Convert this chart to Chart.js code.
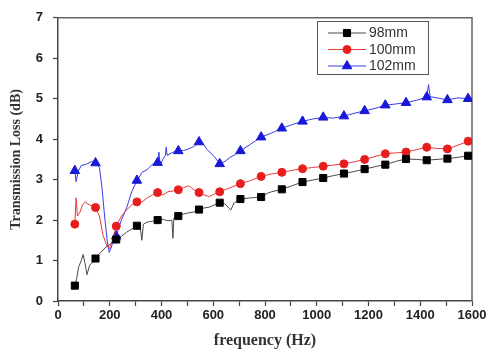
<!DOCTYPE html>
<html>
<head>
<meta charset="utf-8">
<script src="https://cdn.jsdelivr.net/npm/chart.js@4.4.0/dist/chart.umd.min.js"></script>
<style>
html,body{margin:0;padding:0;background:#fff;}
#wrap{width:491px;height:350px;position:relative;}
</style>
</head>
<body>
<div id="wrap"><canvas id="c" width="491" height="350"></canvas></div>
<script>
// ---- data ----
const seriesNames = ["98mm", "100mm", "102mm"];
const markerFreqs = [65,145,225,305,385,465,545,625,705,785,865,945,1025,1105,1185,1265,1345,1425,1505,1585];

const freq98 = [65,72,80,90,97,104,112,122,132,145,165,185,205,225,245,265,285,305,318,324,330,345,365,385,405,425,440,444,448,465,485,505,525,545,565,585,605,625,645,660,668,680,705,745,785,805,825,865,905,945,985,1025,1065,1105,1145,1185,1225,1265,1305,1345,1385,1425,1465,1505,1545,1585,1600];
const tl98   = [0.38,0.55,0.85,1.0,1.15,0.95,0.65,0.88,0.95,1.05,1.2,1.33,1.42,1.52,1.6,1.7,1.78,1.86,1.82,1.5,1.9,1.95,1.97,2.0,2.02,1.98,2.0,1.55,2.05,2.1,2.15,2.18,2.2,2.26,2.3,2.32,2.38,2.43,2.4,2.3,2.25,2.42,2.52,2.55,2.57,2.65,2.7,2.76,2.85,2.94,2.99,3.04,3.1,3.15,3.2,3.26,3.32,3.37,3.45,3.51,3.5,3.48,3.5,3.52,3.55,3.59,3.6];

const freq100 = [65,70,75,85,95,105,120,145,160,175,190,200,210,225,245,265,285,305,325,345,365,385,405,425,445,465,485,505,525,545,565,585,605,625,665,705,745,785,825,865,905,945,985,1025,1065,1105,1145,1185,1225,1265,1305,1345,1385,1425,1465,1505,1545,1585,1600];
const tl100   = [1.9,2.55,2.1,2.2,2.38,2.45,2.38,2.31,2.1,1.6,1.35,1.3,1.5,1.85,2.1,2.25,2.38,2.45,2.45,2.55,2.62,2.68,2.62,2.7,2.72,2.75,2.8,2.85,2.75,2.68,2.62,2.58,2.65,2.7,2.8,2.9,2.98,3.08,3.14,3.18,3.23,3.27,3.3,3.33,3.36,3.39,3.44,3.5,3.57,3.64,3.66,3.68,3.74,3.8,3.77,3.76,3.85,3.95,3.97];

const freq102 = [65,70,78,90,110,130,145,160,170,180,190,198,210,225,245,265,285,305,325,345,365,385,390,395,405,415,418,422,445,465,485,505,525,545,560,575,600,625,645,665,685,705,745,785,825,865,905,945,985,1025,1065,1105,1145,1185,1225,1265,1305,1345,1385,1425,1432,1438,1465,1505,1545,1585,1600];
const tl102   = [3.22,2.95,3.2,3.35,3.38,3.45,3.41,3.3,2.8,2.1,1.5,1.2,1.4,1.6,2.0,2.3,2.7,2.98,3.18,3.25,3.38,3.42,3.68,3.35,3.5,3.6,3.8,3.6,3.68,3.71,3.72,3.76,3.82,3.93,3.9,3.75,3.6,3.39,3.45,3.55,3.62,3.71,3.88,4.05,4.15,4.27,4.36,4.44,4.5,4.54,4.52,4.57,4.64,4.7,4.76,4.84,4.87,4.9,4.96,5.04,5.35,5.05,5.02,4.97,5.02,5.0,5.02];

const xTicks = [0,200,400,600,800,1000,1200,1400,1600];
const yTicks = [0,1,2,3,4,5,6,7];

// ---- build chart ----
function pts(xs, ys){ return xs.map((x,i)=>({x:x, y:ys[i]})); }
const isMarker = ctx => ctx.raw && markerFreqs.indexOf(ctx.raw.x) >= 0;

const styles = [
  {line:'#4a4a4a', fill:'#000000', style:'rect', r:5},
  {line:'#e83a3a', fill:'#e81e1e', style:'circle', r:4},
  {line:'#3a3ae6', fill:'#1818d8', style:'triangle', r:5.5}
];
const allX = [freq98, freq100, freq102];
const allY = [tl98, tl100, tl102];

const datasets = seriesNames.map((name,i)=>({
  label: name,
  data: pts(allX[i], allY[i]),
  borderColor: styles[i].line,
  borderWidth: 1,
  backgroundColor: styles[i].fill,
  pointBackgroundColor: styles[i].fill,
  pointBorderColor: styles[i].fill,
  pointBorderWidth: 1,
  pointStyle: styles[i].style,
  pointRadius: ctx => isMarker(ctx) ? styles[i].r : 0,
  pointHoverRadius: 0,
  tension: 0,
  fill: false
}));

const framePlugin = {
  id: 'frame',
  beforeDatasetsDraw(chart){
    const {ctx, chartArea:a} = chart;
    ctx.save();
    ctx.strokeStyle = '#666';
    ctx.lineWidth = 1.5;
    ctx.beginPath();
    ctx.moveTo(a.left, a.top); ctx.lineTo(a.right, a.top); ctx.lineTo(a.right, a.bottom);
    ctx.stroke();
    ctx.restore();
  }
};

const legendPlugin = {
  id: 'boxLegend',
  afterDraw(chart){
    const ctx = chart.ctx;
    const bx = 317, by = 21, bw = 111, bh = 53;
    ctx.save();
    ctx.fillStyle = '#fff';
    ctx.fillRect(bx, by, bw, bh);
    ctx.strokeStyle = '#555';
    ctx.lineWidth = 1;
    ctx.strokeRect(bx + 0.5, by + 0.5, bw, bh);
    ctx.font = '14px "Liberation Sans", Arial, sans-serif';
    ctx.textBaseline = 'middle';
    ctx.textAlign = 'left';
    seriesNames.forEach((name,i)=>{
      const y = 33 + i*16.5;
      ctx.strokeStyle = styles[i].line;
      ctx.lineWidth = 1;
      ctx.beginPath(); ctx.moveTo(328, y); ctx.lineTo(366, y); ctx.stroke();
      ctx.fillStyle = styles[i].fill;
      ctx.strokeStyle = styles[i].fill;
      Chart.helpers.drawPoint(ctx, {pointStyle: styles[i].style, radius: styles[i].r, borderWidth: 1}, 347, y);
      ctx.fillStyle = '#333';
      ctx.fillText(name, 369, y + 0.5);
    });
    ctx.restore();
  }
};

new Chart(document.getElementById('c'), {
  type: 'line',
  data: { datasets },
  options: {
    responsive: false,
    animation: false,
    events: [],
    layout: { padding: { left: 0, right: 19, top: 17, bottom: 0 } },
    plugins: { legend: { display: false }, tooltip: { enabled: false } },
    scales: {
      x: {
        type: 'linear', min: 0, max: 1600,
        afterFit: s => { s.height = 49; },
        ticks: {
          stepSize: 100, autoSkip: false, maxRotation: 0,
          callback: v => xTicks.indexOf(v) >= 0 ? String(v) : '',
          font: { family: '"Liberation Sans", Arial, sans-serif', size: 13, weight: 'bold' },
          color: '#222', padding: 2
        },
        grid: { drawOnChartArea: false, drawTicks: true, tickLength: 5, color: '#444', tickWidth: 1.2 },
        border: { display: true, color: '#444', width: 1.5 },
        title: {
          display: true, text: 'frequency (Hz)', color: '#333',
          font: { family: '"Liberation Serif", "Times New Roman", serif', size: 16, weight: 'bold' },
          padding: { top: 0, bottom: 0 }
        }
      },
      y: {
        type: 'linear', min: 0, max: 7,
        afterFit: s => { s.width = 58; },
        afterBuildTicks: s => { s.ticks = yTicks.map(v => ({value: v})); },
        ticks: {
          font: { family: '"Liberation Sans", Arial, sans-serif', size: 13, weight: 'bold' },
          color: '#222', padding: 10
        },
        grid: { drawOnChartArea: false, drawTicks: true, tickLength: 5, color: '#444', tickWidth: 1.2 },
        border: { display: true, color: '#444', width: 1.5 },
        title: {
          display: true, text: 'Transmission Loss (dB)', color: '#333',
          font: { family: '"Liberation Serif", "Times New Roman", serif', size: 14, weight: 'bold' },
          padding: { top: 8, bottom: 0 }
        }
      }
    }
  },
  plugins: [framePlugin, legendPlugin]
});
</script>
</body>
</html>
